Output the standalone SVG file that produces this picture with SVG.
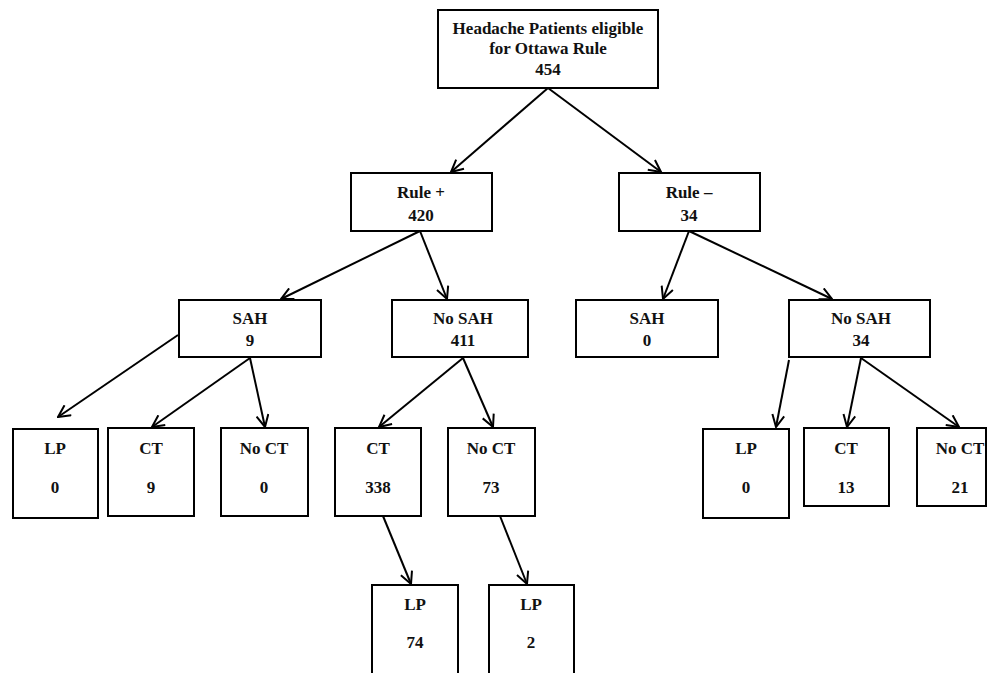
<svg xmlns="http://www.w3.org/2000/svg" width="990" height="673" viewBox="0 0 990 673">
<defs>
<style>
.box{fill:#fff;stroke:#000;stroke-width:2}
.t{font-family:"Liberation Serif","DejaVu Serif",serif;font-weight:bold;font-size:17px;text-anchor:middle;fill:#111}
.c{stroke:#000;stroke-width:2;fill:none;marker-end:url(#ah)}
</style>
<marker id="ah" viewBox="0 0 14 14" refX="13" refY="7" markerWidth="14" markerHeight="14" markerUnits="userSpaceOnUse" orient="auto">
<path d="M1,1 L13,7 L1,13" fill="none" stroke="#000" stroke-width="2"/>
</marker>
</defs>
<rect width="990" height="673" fill="#fff"/>
<g id="connectors">
<line class="c" x1="548" y1="88" x2="451" y2="172"/>
<line class="c" x1="548" y1="88" x2="661" y2="172"/>
<line class="c" x1="420" y1="231" x2="281" y2="299"/>
<line class="c" x1="420" y1="231" x2="447" y2="299"/>
<line class="c" x1="689" y1="231" x2="663" y2="299"/>
<line class="c" x1="689" y1="231" x2="832" y2="299"/>
<line class="c" x1="178" y1="335" x2="58" y2="417"/>
<line class="c" x1="250" y1="358" x2="152" y2="427"/>
<line class="c" x1="250" y1="358" x2="265" y2="427"/>
<line class="c" x1="463" y1="358" x2="379" y2="427"/>
<line class="c" x1="463" y1="358" x2="493" y2="427"/>
<line class="c" x1="789" y1="360" x2="776" y2="427"/>
<line class="c" x1="861" y1="358" x2="847" y2="427"/>
<line class="c" x1="861" y1="358" x2="959" y2="427"/>
<line class="c" x1="383" y1="516" x2="411" y2="584"/>
<line class="c" x1="500" y1="516" x2="527" y2="584"/>
</g>
<g id="root"><rect class="box" x="438" y="10" width="220" height="78"/>
<text class="t" x="548" y="34">Headache Patients eligible</text>
<text class="t" x="548" y="54">for Ottawa Rule</text>
<text class="t" x="548" y="75">454</text></g>
<g id="rule-pos"><rect class="box" x="351" y="173" width="141" height="58"/>
<text class="t" x="421" y="198">Rule +</text><text class="t" x="421" y="221">420</text></g>
<g id="rule-neg"><rect class="box" x="619" y="173" width="141" height="58"/>
<text class="t" x="689" y="198">Rule –</text><text class="t" x="689" y="221">34</text></g>
<g id="sah9"><rect class="box" x="179" y="300" width="142" height="57"/>
<text class="t" x="250" y="324">SAH</text><text class="t" x="250" y="346">9</text></g>
<g id="nosah411"><rect class="box" x="392" y="300" width="136" height="57"/>
<text class="t" x="463" y="324">No SAH</text><text class="t" x="463" y="346">411</text></g>
<g id="sah0"><rect class="box" x="576" y="300" width="142" height="57"/>
<text class="t" x="647" y="324">SAH</text><text class="t" x="647" y="346">0</text></g>
<g id="nosah34"><rect class="box" x="789" y="300" width="141" height="57"/>
<text class="t" x="861" y="324">No SAH</text><text class="t" x="861" y="346">34</text></g>
<g id="lp0a"><rect class="box" x="13" y="429" width="85" height="89"/>
<text class="t" x="55" y="454">LP</text><text class="t" x="55" y="493">0</text></g>
<g id="ct9"><rect class="box" x="108" y="428" width="86" height="88"/>
<text class="t" x="151" y="454">CT</text><text class="t" x="151" y="493">9</text></g>
<g id="noct0"><rect class="box" x="221" y="428" width="87" height="88"/>
<text class="t" x="264" y="454">No CT</text><text class="t" x="264" y="493">0</text></g>
<g id="ct338"><rect class="box" x="335" y="428" width="86" height="88"/>
<text class="t" x="378" y="454">CT</text><text class="t" x="378" y="493">338</text></g>
<g id="noct73"><rect class="box" x="448" y="428" width="87" height="88"/>
<text class="t" x="491" y="454">No CT</text><text class="t" x="491" y="493">73</text></g>
<g id="lp0b"><rect class="box" x="703" y="429" width="86" height="89"/>
<text class="t" x="746" y="454">LP</text><text class="t" x="746" y="493">0</text></g>
<g id="ct13"><rect class="box" x="804" y="428" width="85" height="78"/>
<text class="t" x="846" y="454">CT</text><text class="t" x="846" y="493">13</text></g>
<g id="noct21"><rect class="box" x="917" y="428" width="69" height="78"/>
<text class="t" x="960" y="454">No CT</text><text class="t" x="960" y="493">21</text></g>
<g id="lp74"><rect class="box" x="372" y="585" width="86" height="95"/>
<text class="t" x="415" y="610">LP</text><text class="t" x="415" y="648">74</text></g>
<g id="lp2"><rect class="box" x="489" y="585" width="85" height="95"/>
<text class="t" x="531" y="610">LP</text><text class="t" x="531" y="648">2</text></g>
</svg>
